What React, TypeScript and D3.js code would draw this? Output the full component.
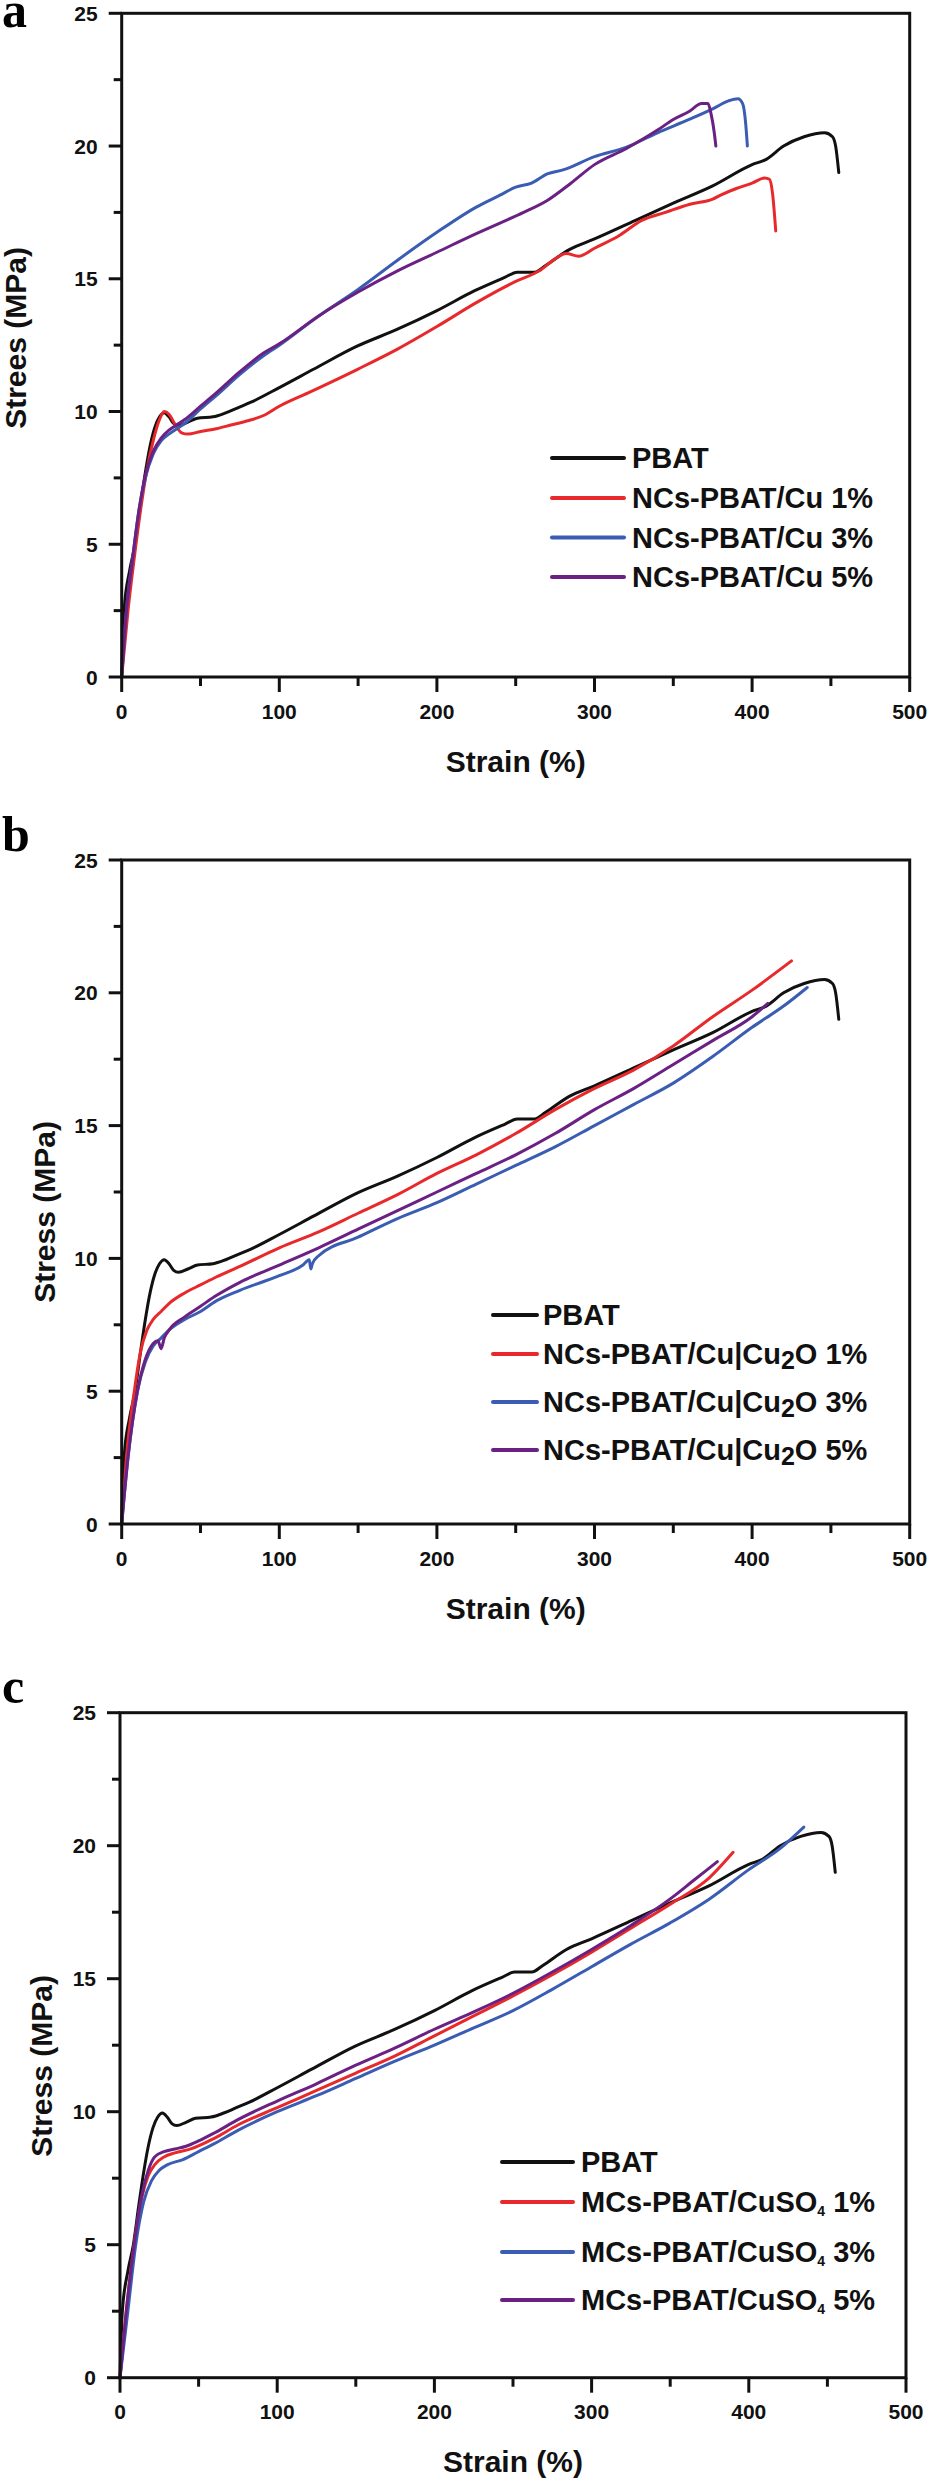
import React from "react";
import * as d3 from "d3";

type Pt = [number, number];

// ---------- DATA ----------
const xTicks = [0, 100, 200, 300, 400, 500];
const yTicks = [0, 5, 10, 15, 20, 25];

const pbat: Pt[] = [[0,0],[1.5,2.5],[5,4],[8.5,5],[12,6.5],[15,7.7],[18,8.7],[21,9.4],[24,9.8],[27,9.95],[30,9.8],[33,9.55],[36,9.48],[42,9.6],[48,9.75],[58,9.8],[66,9.95],[74,10.15],[82,10.35],[100,10.9],[122,11.6],[149,12.45],[175,13.1],[200,13.8],[224,14.55],[243,15.05],[251,15.25],[262,15.25],[269,15.5],[284,16.1],[300,16.5],[326,17.2],[350,17.85],[375,18.5],[400,19.3],[409,19.5],[420,20.0],[433,20.35],[446,20.5],[451,20.35],[453,20.0],[455,19.0]];

const aCu1: Pt[] = [[0,0],[4,2.5],[8,4.5],[12,6.3],[16,7.8],[20,8.9],[24,9.7],[27,10.0],[30,9.9],[34,9.5],[38,9.2],[42,9.15],[50,9.25],[60,9.35],[70,9.5],[80,9.65],[90,9.85],[100,10.2],[120,10.75],[150,11.6],[175,12.35],[200,13.2],[225,14.1],[250,14.9],[265,15.3],[275,15.75],[282,15.95],[290,15.85],[300,16.15],[315,16.6],[330,17.2],[345,17.5],[360,17.8],[375,18.0],[380,18.15],[390,18.4],[400,18.6],[408,18.8],[411,18.75],[413,18.2],[415,16.8]];
const aCu3: Pt[] = [[0,0],[3,2.5],[7,4.5],[11,6.3],[15,7.5],[20,8.4],[25,8.9],[30,9.15],[35,9.35],[40,9.55],[50,10.1],[60,10.6],[75,11.4],[90,12.1],[100,12.5],[125,13.6],[150,14.6],[175,15.7],[200,16.75],[225,17.7],[240,18.15],[250,18.45],[260,18.6],[270,18.95],[280,19.1],[300,19.6],[320,19.95],[340,20.5],[360,21.0],[375,21.4],[385,21.7],[391,21.78],[394,21.6],[396,20.8],[397,20.0]];
const aCu5: Pt[] = [[0,0],[3,2.5],[7,4.5],[11,6.3],[15,7.6],[20,8.5],[25,9.0],[30,9.3],[35,9.5],[40,9.7],[50,10.2],[60,10.7],[75,11.5],[90,12.2],[100,12.55],[125,13.6],[150,14.5],[175,15.3],[200,16.0],[225,16.7],[240,17.1],[255,17.5],[270,17.95],[285,18.6],[300,19.3],[320,19.9],[340,20.6],[350,21.0],[360,21.3],[368,21.6],[372,21.6],[374,21.2],[376,20.5],[377,20.0]];

const bCu2O1: Pt[] = [[0,0],[3,2.5],[8,5],[12,6.5],[16,7.3],[20,7.7],[25,8.0],[30,8.3],[40,8.7],[50,9.0],[60,9.3],[75,9.7],[100,10.4],[125,11.0],[150,11.7],[175,12.4],[200,13.2],[225,13.9],[250,14.7],[275,15.6],[300,16.4],[325,17.1],[350,18.0],[375,19.1],[400,20.1],[425,21.2]];
const bCu2O3: Pt[] = [[0,0],[4,2.5],[10,5],[15,6.1],[20,6.7],[25,7.0],[30,7.3],[40,7.7],[50,8.0],[60,8.4],[75,8.8],[100,9.35],[115,9.75],[119,9.95],[120,9.6],[121,9.8],[125,10.1],[150,10.8],[175,11.5],[200,12.1],[225,12.8],[250,13.5],[275,14.2],[300,15.0],[325,15.8],[350,16.6],[375,17.6],[400,18.7],[420,19.5],[435,20.2]];
const bCu2O5: Pt[] = [[0,0],[4,2.5],[10,5],[15,6.2],[20,6.8],[23,6.9],[25,6.6],[27,7.0],[30,7.3],[40,7.8],[50,8.2],[60,8.6],[75,9.1],[100,9.75],[125,10.4],[150,11.1],[175,11.8],[200,12.5],[225,13.2],[250,13.9],[275,14.7],[300,15.6],[325,16.4],[350,17.3],[375,18.2],[400,19.1],[410,19.6]];

const cSO1: Pt[] = [[0,0],[4,2.5],[9,5],[14,6.8],[18,7.6],[22,8.0],[28,8.3],[35,8.45],[45,8.6],[60,9.0],[75,9.5],[100,10.15],[125,10.8],[150,11.45],[175,12.1],[200,12.85],[225,13.6],[250,14.35],[275,15.15],[300,16.0],[325,16.9],[350,17.8],[375,18.8],[390,19.75]];
const cSO3: Pt[] = [[0,0],[5,2.5],[10,5],[15,6.6],[20,7.4],[25,7.8],[30,8.0],[40,8.2],[50,8.5],[60,8.8],[75,9.3],[100,10.0],[125,10.6],[150,11.25],[175,11.9],[200,12.5],[225,13.15],[250,13.8],[275,14.6],[300,15.45],[325,16.3],[350,17.1],[375,18.0],[400,19.1],[420,19.9],[435,20.7]];
const cSO5: Pt[] = [[0,0],[4,2.5],[9,5],[14,6.9],[18,7.8],[22,8.3],[28,8.5],[35,8.6],[42,8.7],[50,8.9],[60,9.2],[75,9.7],[100,10.4],[125,11.05],[150,11.75],[175,12.4],[200,13.1],[225,13.75],[250,14.45],[275,15.25],[300,16.1],[325,17.0],[350,18.0],[365,18.7],[380,19.4]];

const legendA = ["PBAT", "NCs-PBAT/Cu 1%", "NCs-PBAT/Cu 3%", "NCs-PBAT/Cu 5%"];
const legendBPct = ["1%", "3%", "5%"];
const legendCPct = ["1%", "3%", "5%"];

// ---------- STYLE ----------
const COLORS = ["#111111", "#e8292b", "#3a5db3", "#6a2183"];
const SANS = "'Liberation Sans', Arial, Helvetica, sans-serif";
const SERIF = "'Liberation Serif', 'Times New Roman', serif";

type PanelCfg = {
  letter: string;
  letterY: number;
  x0: number; x1: number; yTop: number; yBot: number;
  series: Pt[][];
  yTitle: string; yTitleX: number; yTitleY: number;
  legendLineX: [number, number];
  legendTextX: number;
  legendRows: number[];
  legendKind: "a" | "b" | "c";
};

const panels: PanelCfg[] = [
  {
    letter: "a", letterY: 27,
    x0: 121.7, x1: 909.7, yTop: 13.3, yBot: 677,
    series: [pbat, aCu1, aCu3, aCu5],
    yTitle: "Strees (MPa)", yTitleX: 15, yTitleY: 338,
    legendLineX: [552, 624], legendTextX: 632,
    legendRows: [458, 498, 537.5, 577], legendKind: "a",
  },
  {
    letter: "b", letterY: 851,
    x0: 121.7, x1: 909.7, yTop: 860, yBot: 1524,
    series: [pbat, bCu2O1, bCu2O3, bCu2O5],
    yTitle: "Stress (MPa)", yTitleX: 44, yTitleY: 1212,
    legendLineX: [493, 537], legendTextX: 543,
    legendRows: [1315, 1354, 1402, 1450], legendKind: "b",
  },
  {
    letter: "c", letterY: 1703,
    x0: 120, x1: 906, yTop: 1712.7, yBot: 2377.7,
    series: [pbat, cSO1, cSO3, cSO5],
    yTitle: "Stress (MPa)", yTitleX: 41, yTitleY: 2066,
    legendLineX: [502, 573], legendTextX: 581,
    legendRows: [2162, 2202, 2252, 2300], legendKind: "c",
  },
];

function LegendText({ kind, i, x, y }: { kind: string; i: number; x: number; y: number }) {
  const common = { x, y, fontFamily: SANS, fontWeight: 700, fontSize: 29, dominantBaseline: "central" as const, fill: "#111" };
  if (i === 0) return <text {...common}>PBAT</text>;
  if (kind === "a") return <text {...common}>{legendA[i]}</text>;
  if (kind === "b")
    return (
      <text {...common}>
        NCs-PBAT/Cu|Cu<tspan dy={6} fontSize={25}>2</tspan>
        <tspan dy={-6}>O {legendBPct[i - 1]}</tspan>
      </text>
    );
  return (
    <text {...common}>
      MCs-PBAT/CuSO<tspan dy={9} fontSize={14}>4</tspan>
      <tspan dy={-9}> {legendCPct[i - 1]}</tspan>
    </text>
  );
}

function Panel({ p }: { p: PanelCfg }) {
  const x = d3.scaleLinear().domain([0, 500]).range([p.x0, p.x1]);
  const y = d3.scaleLinear().domain([0, 25]).range([p.yBot, p.yTop]);
  const line = d3
    .line<Pt>()
    .x((d) => x(d[0]))
    .y((d) => y(d[1]))
    .curve(d3.curveMonotoneX);
  const xMinor = d3.range(50, 500, 100);
  const yMinor = d3.range(2.5, 25, 5);
  const order = [0, 1, 2, 3];
  return (
    <g>
      <text x={2} y={p.letterY} fontFamily={SERIF} fontWeight={700} fontSize={50} fill="#000">
        {p.letter}
      </text>
      {/* curves */}
      {order.map((i) => (
        <path key={i} d={line(p.series[i]) || ""} fill="none" stroke={COLORS[i]} strokeWidth={3} strokeLinejoin="round" strokeLinecap="round" />
      ))}
      {/* frame */}
      <rect x={p.x0} y={p.yTop} width={p.x1 - p.x0} height={p.yBot - p.yTop} fill="none" stroke="#111" strokeWidth={3} />
      {/* x ticks */}
      {xTicks.map((t) => (
        <g key={"xt" + t}>
          <line x1={x(t)} x2={x(t)} y1={p.yBot} y2={p.yBot + 15} stroke="#111" strokeWidth={3} />
          <text x={x(t)} y={p.yBot + 34} textAnchor="middle" dominantBaseline="central" fontFamily={SANS} fontWeight={700} fontSize={21} fill="#111">
            {t}
          </text>
        </g>
      ))}
      {xMinor.map((t) => (
        <line key={"xm" + t} x1={x(t)} x2={x(t)} y1={p.yBot} y2={p.yBot + 9} stroke="#111" strokeWidth={3} />
      ))}
      {/* y ticks */}
      {yTicks.map((t) => (
        <g key={"yt" + t}>
          <line x1={p.x0 - 13} x2={p.x0} y1={y(t)} y2={y(t)} stroke="#111" strokeWidth={3} />
          <text x={p.x0 - 24} y={y(t)} textAnchor="end" dominantBaseline="central" fontFamily={SANS} fontWeight={700} fontSize={21} fill="#111">
            {t}
          </text>
        </g>
      ))}
      {yMinor.map((t) => (
        <line key={"ym" + t} x1={p.x0 - 8} x2={p.x0} y1={y(t)} y2={y(t)} stroke="#111" strokeWidth={3} />
      ))}
      {/* titles */}
      <text x={(p.x0 + p.x1) / 2} y={p.yBot + 84} textAnchor="middle" dominantBaseline="central" fontFamily={SANS} fontWeight={700} fontSize={30} fill="#111">
        Strain (%)
      </text>
      <text
        transform={`translate(${p.yTitleX},${p.yTitleY}) rotate(-90)`}
        textAnchor="middle"
        dominantBaseline="central"
        fontFamily={SANS}
        fontWeight={700}
        fontSize={30}
        fill="#111"
      >
        {p.yTitle}
      </text>
      {/* legend */}
      {p.legendRows.map((ry, i) => (
        <g key={"lg" + i}>
          <line x1={p.legendLineX[0]} x2={p.legendLineX[1]} y1={ry} y2={ry} stroke={COLORS[i]} strokeWidth={4} strokeLinecap="round" />
          <LegendText kind={p.legendKind} i={i} x={p.legendTextX} y={ry} />
        </g>
      ))}
    </g>
  );
}

export default function App() {
  return (
    <svg
      width={931}
      height={2481}
      viewBox="0 0 931 2481"
      style={{ position: "absolute", left: 0, top: 0, display: "block", background: "#fff" }}
    >
      <rect x={0} y={0} width={931} height={2481} fill="#fff" />
      {panels.map((p) => (
        <Panel key={p.letter} p={p} />
      ))}
    </svg>
  );
}
